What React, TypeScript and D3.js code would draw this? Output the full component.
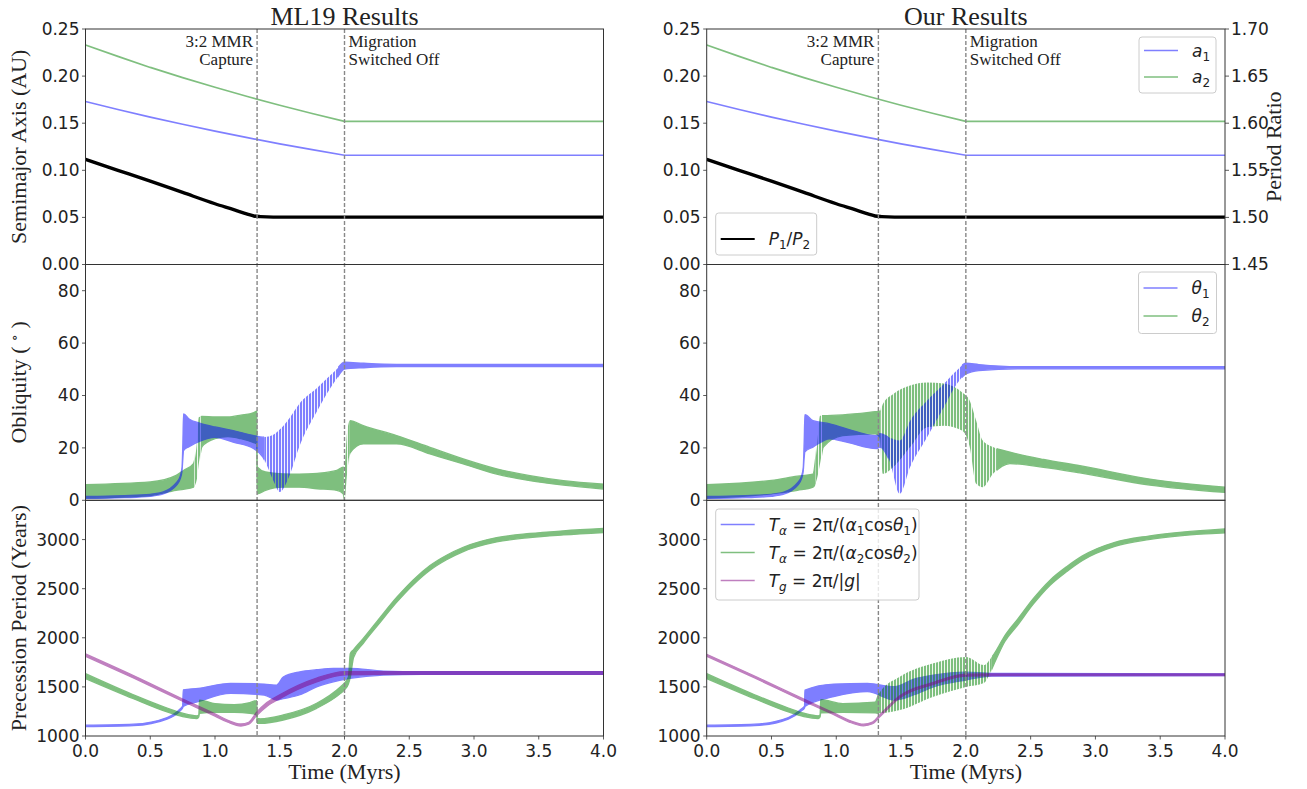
import React from "react";
import * as d3 from "d3";

type Pt = [number, number, number];

// ---------- ticks ----------
const TIME_TICKS = [0, 0.5, 1, 1.5, 2, 2.5, 3, 3.5, 4];
const SMA_TICKS = [0, 0.05, 0.1, 0.15, 0.2, 0.25];
const RATIO_TICKS = [1.45, 1.5, 1.55, 1.6, 1.65, 1.7];
const OBL_TICKS = [0, 20, 40, 60, 80];
const PREC_TICKS = [1000, 1500, 2000, 2500, 3000];
const EVENTS = [1.325, 2.0];

// ---------- semimajor axes & period ratio ----------
const SMA_T = [0, 0.25, 0.5, 0.75, 1.0, 1.25, 1.5, 1.75, 2.0, 4.0];
const SMA_1 = [0.173, 0.1645, 0.1565, 0.1489, 0.1416, 0.1347, 0.1281, 0.1219, 0.116, 0.116];
const SMA_2 = [0.233, 0.2209, 0.2092, 0.1984, 0.1881, 0.1783, 0.1691, 0.1603, 0.152, 0.152];
const RATIO_T = [0, 0.25, 0.5, 0.75, 1.0, 1.15, 1.25, 1.3, 1.35, 1.45, 4.0];
const RATIO = [1.5615, 1.55, 1.5385, 1.5265, 1.5145, 1.508, 1.5035, 1.5015, 1.5008, 1.5003, 1.5003];

// ---------- obliquity [t, low, high] ----------
const ML19_OBL_1: Pt[] = [
  [0, 0.7, 1.5], [0.3, 1.0, 1.8], [0.5, 1.5, 2.3], [0.6, 2.4, 3.2], [0.65, 3.6, 4.4],
  [0.7, 5.6, 6.6], [0.73, 8, 9], [0.745, 11, 12.5], [0.752, 16, 22], [0.757, 19, 33],
  [0.8, 20.5, 31], [0.88, 22.5, 29.5], [1.0, 24, 28], [1.14, 22.2, 26.6], [1.3, 19.7, 24.7],
  [1.37, 16.5, 24.1], [1.45, 7.6, 25], [1.5, 3.2, 27], [1.58, 10, 31.7], [1.65, 20.3, 36.8],
  [1.79, 34.2, 43], [1.93, 45.7, 49.5], [2.0, 50.1, 52.7], [2.15, 50.6, 52.3], [2.4, 51, 51.9],
  [4.0, 51, 51.9],
];
const ML19_OBL_1_SPIKY = [[1.38, 1.95]];
const ML19_OBL_2: Pt[] = [
  [0, 0.8, 6], [0.5, 1.8, 7], [0.7, 3.8, 9.5], [0.757, 4.2, 11.4], [0.834, 5, 14],
  [0.86, 8, 22], [0.875, 14, 31.7], [0.9, 20.5, 32], [1.0, 23.5, 31.8], [1.1, 24.3, 31.8],
  [1.2, 23.5, 32.5], [1.3, 22, 33.5], [1.322, 21.5, 34], [1.326, 2.5, 12.7], [1.39, 3.8, 10.8],
  [1.52, 5, 10.1], [1.65, 5, 10], [1.79, 4.4, 10.3], [1.94, 3.8, 11.4], [1.99, 2.5, 12.7],
  [2.0, 0, 12.5], [2.02, 10, 26], [2.042, 18, 30.4], [2.145, 21.5, 28.5], [2.402, 21.5, 24.7],
  [2.66, 17.7, 20.2], [2.917, 13.9, 15.8], [3.175, 10, 12], [3.432, 7.5, 9.4], [3.69, 5.8, 7.5],
  [4.0, 4.3, 6.2],
];
const ML19_OBL_2_SPIKY = [[0.84, 0.89], [1.995, 2.04]];

const OUR_OBL_1: Pt[] = [
  [0, 0.7, 1.5], [0.3, 1.0, 1.8], [0.5, 1.5, 2.3], [0.6, 2.4, 3.2], [0.65, 3.6, 4.4],
  [0.7, 5.6, 6.6], [0.73, 8, 9], [0.745, 11, 12.5], [0.752, 16, 22], [0.758, 18.5, 32.7],
  [0.82, 20.3, 30.4], [0.95, 23.5, 29.2], [1.08, 22.2, 27.3], [1.31, 19.7, 24.7],
  [1.337, 20.3, 25.4], [1.41, 15.2, 24], [1.49, 2.5, 22.8], [1.57, 12.7, 30.4],
  [1.7, 24, 38], [1.83, 35.5, 44.4], [1.93, 44.4, 49.5], [2.0, 48.2, 52.3],
  [2.1, 49.5, 51.8], [2.4, 50.2, 51.0], [4.0, 50.2, 51.0],
];
const OUR_OBL_1_SPIKY = [[1.4, 1.97]];
const OUR_OBL_2: Pt[] = [
  [0, 0.8, 6], [0.5, 2.5, 7.6], [0.7, 3.8, 9.2], [0.82, 5, 10], [0.85, 8, 20],
  [0.875, 14, 32.3], [0.9, 20.3, 32.3], [1.05, 24.7, 32.6], [1.3, 25.4, 33.8],
  [1.337, 24, 34], [1.36, 10.1, 36.8], [1.44, 12.7, 40.6], [1.57, 20.3, 43.8],
  [1.7, 27.9, 45], [1.83, 28.5, 44.6], [1.97, 26.6, 41.2], [2.03, 20.3, 38],
  [2.08, 6.3, 30.4], [2.13, 5, 22.8], [2.21, 10.1, 20.3], [2.34, 14, 18.4],
  [2.6, 12.6, 15.6], [2.88, 10.5, 13.2], [3.42, 5.8, 8.1], [4.0, 3, 5],
];
const OUR_OBL_2_SPIKY = [[0.84, 0.89], [1.34, 2.24]];

// ---------- precession periods [t, low, high] ----------
const ML19_PREC_1: Pt[] = [
  [0, 1095, 1110], [0.37, 1105, 1120], [0.63, 1172, 1188], [0.73, 1255, 1275],
  [0.75, 1285, 1305], [0.755, 1300, 1470], [0.87, 1349, 1485], [1.12, 1434, 1536],
  [1.38, 1417, 1529], [1.476, 1366, 1519], [1.527, 1380, 1600], [1.656, 1420, 1654],
  [1.785, 1500, 1675], [1.914, 1552, 1689], [2.042, 1586, 1689], [2.3, 1620, 1661],
  [2.6, 1628, 1655], [4.0, 1628, 1655],
];
const ML19_PREC_1_SPIKY: number[][] = [];
const ML19_PREC_2: Pt[] = [
  [0, 1585, 1635], [0.37, 1380, 1420], [0.63, 1245, 1285], [0.75, 1198, 1232],
  [0.86, 1178, 1205], [0.875, 1195, 1215], [0.88, 1231, 1366], [1.0, 1240, 1330],
  [1.15, 1240, 1320], [1.27, 1231, 1340], [1.322, 1215, 1360], [1.326, 1130, 1180],
  [1.35, 1129, 1175], [1.527, 1163, 1214], [1.785, 1282, 1333], [1.97, 1434, 1502],
  [2.0, 1470, 1540], [2.03, 1530, 1600], [2.045, 1600, 1841], [2.07, 1800, 1880],
  [2.145, 1944, 1994], [2.274, 2155, 2205], [2.402, 2360, 2410], [2.531, 2540, 2590],
  [2.66, 2688, 2736], [2.788, 2795, 2841], [2.917, 2878, 2922], [3.175, 2976, 3020],
  [3.432, 3020, 3062], [3.69, 3047, 3089], [4.0, 3072, 3113],
];
const ML19_PREC_2_SPIKY: number[][] = [];
const ML19_PREC_G: Pt[] = [
  [0, 1812, 1836], [0.37, 1591, 1615], [0.75, 1355, 1377], [1.0, 1203, 1225],
  [1.1, 1140, 1160], [1.2, 1102, 1122], [1.26, 1120, 1140], [1.32, 1205, 1240],
  [1.4, 1300, 1340], [1.5, 1380, 1420], [1.785, 1550, 1590], [2.0, 1622, 1655],
  [2.3, 1628, 1655], [4.0, 1628, 1655],
];

const OUR_PREC_1: Pt[] = [
  [0, 1095, 1110], [0.37, 1105, 1120], [0.63, 1172, 1188], [0.73, 1255, 1275],
  [0.755, 1285, 1305], [0.758, 1300, 1467], [0.98, 1400, 1529], [1.24, 1451, 1536],
  [1.45, 1366, 1502], [1.6, 1420, 1580], [1.75, 1500, 1620], [2.0, 1570, 1650],
  [2.2, 1610, 1638], [4.0, 1615, 1633],
];
const OUR_PREC_1_SPIKY: number[][] = [];
const OUR_PREC_2: Pt[] = [
  [0, 1585, 1635], [0.37, 1380, 1420], [0.63, 1245, 1285], [0.75, 1198, 1232],
  [0.86, 1178, 1205], [0.875, 1195, 1215], [0.88, 1235, 1370], [1.05, 1240, 1330],
  [1.3, 1235, 1345], [1.33, 1231, 1434], [1.49, 1264, 1603], [1.75, 1400, 1740],
  [2.0, 1500, 1805], [2.14, 1540, 1722], [2.19, 1651, 1786], [2.22, 1740, 1840],
  [2.3, 1960, 2020], [2.4, 2130, 2190], [2.52, 2342, 2398], [2.65, 2535, 2587],
  [2.78, 2676, 2726], [2.9, 2788, 2834], [3.15, 2930, 2972], [3.41, 3000, 3036],
  [3.67, 3041, 3076], [4.0, 3068, 3109],
];
const OUR_PREC_2_SPIKY = [[1.33, 2.2]];
const OUR_PREC_G: Pt[] = [
  [0, 1812, 1832], [0.37, 1591, 1611], [0.75, 1355, 1375], [1.0, 1205, 1222],
  [1.1, 1142, 1160], [1.21, 1104, 1120], [1.28, 1125, 1142], [1.34, 1200, 1222],
  [1.49, 1390, 1410], [1.75, 1526, 1546], [2.0, 1610, 1630], [2.3, 1614, 1632],
  [4.0, 1614, 1632],
];

// ---------- legend labels (math segments: n normal, i italic, s sub, si italic sub) ----------
type Seg = [string, string];
const LBL_A1: Seg[] = [["a", "i"], ["1", "s"]];
const LBL_A2: Seg[] = [["a", "i"], ["2", "s"]];
const LBL_RATIO: Seg[] = [["P", "i"], ["1", "s"], ["/", "n"], ["P", "i"], ["2", "s"]];
const LBL_TH1: Seg[] = [["θ", "i"], ["1", "s"]];
const LBL_TH2: Seg[] = [["θ", "i"], ["2", "s"]];
const LBL_T1: Seg[] = [["T", "i"], ["α", "si"], [" = 2π/(", "n"], ["α", "i"], ["1", "s"], ["cos", "n"], ["θ", "i"], ["1", "s"], [")", "n"]];
const LBL_T2: Seg[] = [["T", "i"], ["α", "si"], [" = 2π/(", "n"], ["α", "i"], ["2", "s"], ["cos", "n"], ["θ", "i"], ["2", "s"], [")", "n"]];
const LBL_TG: Seg[] = [["T", "i"], ["g", "si"], [" = 2π/|", "n"], ["g", "i"], ["|", "n"]];

// ---------- layout ----------
const TOP = 29;
const R1 = 264.5;
const R2 = 500.3;
const BOT = 736;
const BLUE = "#0000ff";
const GREEN = "#008000";
const PURPLE = "#800080";
const SERIF = "'Liberation Serif', 'DejaVu Serif', serif";
const SANS = "'DejaVu Sans', sans-serif";
const TXT = "#222";

const COLS = [
  {
    key: "ml", title: "ML19 Results", x0: 85.5, x1: 603.5, right: false,
    obl1: ML19_OBL_1, obl1s: ML19_OBL_1_SPIKY, obl2: ML19_OBL_2, obl2s: ML19_OBL_2_SPIKY,
    p1: ML19_PREC_1, p1s: ML19_PREC_1_SPIKY, p2: ML19_PREC_2, p2s: ML19_PREC_2_SPIKY, pg: ML19_PREC_G,
  },
  {
    key: "our", title: "Our Results", x0: 706.7, x1: 1225, right: true,
    obl1: OUR_OBL_1, obl1s: OUR_OBL_1_SPIKY, obl2: OUR_OBL_2, obl2s: OUR_OBL_2_SPIKY,
    p1: OUR_PREC_1, p1s: OUR_PREC_1_SPIKY, p2: OUR_PREC_2, p2s: OUR_PREC_2_SPIKY, pg: OUR_PREC_G,
  },
];

type Sc = d3.ScaleLinear<number, number>;

function Band(props: {
  id: string; data: Pt[]; spiky: number[][]; x: Sc; y: Sc; color: string; pattern: string;
}) {
  const { id, data, spiky, x, y, color, pattern } = props;
  const area = d3
    .area<Pt>()
    .x((d) => x(d[0]))
    .y0((d) => y(d[1]))
    .y1((d) => y(d[2]))
    .curve(d3.curveMonotoneX);
  const d = area(data) || "";
  const [r0, r1] = x.range();
  const sp = spiky.map(([a, b]) => [x(a), x(b)]);
  const solid: number[][] = [];
  let cur = r0 - 10;
  for (const [a, b] of sp) {
    solid.push([cur, a]);
    cur = b;
  }
  solid.push([cur, r1 + 10]);
  return (
    <g opacity={0.5}>
      <clipPath id={id + "-s"}>
        {solid.map(([a, b], i) => (
          <rect key={i} x={a} y={0} width={Math.max(0, b - a)} height={789} />
        ))}
      </clipPath>
      {sp.length > 0 && (
        <clipPath id={id + "-p"}>
          {sp.map(([a, b], i) => (
            <rect key={i} x={a} y={0} width={Math.max(0, b - a)} height={789} />
          ))}
        </clipPath>
      )}
      <path d={d} fill={color} stroke={color} strokeWidth={1.3} strokeLinejoin="round" clipPath={`url(#${id}-s)`} />
      {sp.length > 0 && <path d={d} fill={`url(#${pattern})`} clipPath={`url(#${id}-p)`} />}
    </g>
  );
}

function MathText({ segs }: { segs: Seg[] }) {
  let off = 0;
  return (
    <>
      {segs.map(([t, s], i) => {
        const sub = s[0] === "s";
        const target = sub ? 4 : 0;
        const dy = target - off;
        off = target;
        return (
          <tspan key={i} dy={dy !== 0 ? dy : undefined} fontSize={sub ? 12 : 17} fontStyle={s.includes("i") ? "italic" : "normal"}>
            {t}
          </tspan>
        );
      })}
    </>
  );
}

function Legend(props: { x: number; y: number; w: number; h: number; items: { color: string; label: Seg[]; alpha?: number }[]; first: number; step: number }) {
  const { x, y, w, h, items, first, step } = props;
  return (
    <g>
      <rect x={x} y={y} width={w} height={h} rx={3} fill="#fff" fillOpacity={0.8} stroke="#cccccc" strokeWidth={1} />
      {items.map((it, i) => {
        const yy = y + first + i * step;
        return (
          <g key={i}>
            <line x1={x + 5} x2={x + 39} y1={yy} y2={yy} stroke={it.color} strokeOpacity={it.alpha ?? 0.5} strokeWidth={it.alpha ? 2 : 1.6} />
            <text x={x + 53} y={yy + 6} fontFamily={SANS} fontSize={17} fill={TXT}>
              <MathText segs={it.label} />
            </text>
          </g>
        );
      })}
    </g>
  );
}

function Column({ c }: { c: (typeof COLS)[number] }) {
  const x = d3.scaleLinear().domain([0, 4]).range([c.x0, c.x1]);
  const ySma = d3.scaleLinear().domain([0, 0.25]).range([R1, TOP]);
  const yRat = d3.scaleLinear().domain([1.45, 1.7]).range([R1, TOP]);
  const yObl = d3.scaleLinear().domain([0, 90]).range([R2, R1]);
  const yPre = d3.scaleLinear().domain([1000, 3400]).range([BOT, R2]);
  const w = c.x1 - c.x0;
  const mid = (c.x0 + c.x1) / 2;

  const smaLine = (vals: number[]) =>
    d3.line<number>().x((_, i) => x(SMA_T[i])).y((v) => ySma(v)).curve(d3.curveLinear)(vals) || "";
  const ratioLine =
    d3.line<number>().x((_, i) => x(RATIO_T[i])).y((v) => yRat(v)).curve(d3.curveMonotoneX)(RATIO) || "";

  const k = c.key;
  const yTicks = (ticks: number[], sc: Sc, fmt: (v: number) => string) =>
    ticks.map((t) => (
      <g key={t}>
        <line x1={c.x0 - 3.5} x2={c.x0} y1={sc(t)} y2={sc(t)} stroke="#333" strokeWidth={0.8} />
        <text x={c.x0 - 6} y={sc(t)} dy="0.35em" textAnchor="end" fontFamily={SANS} fontSize={17} fill={TXT}>
          {fmt(t)}
        </text>
      </g>
    ));

  return (
    <g>
      <clipPath id={`${k}-c0`}><rect x={c.x0} y={TOP} width={w} height={R1 - TOP} /></clipPath>
      <clipPath id={`${k}-c1`}><rect x={c.x0} y={R1} width={w} height={R2 - R1} /></clipPath>
      <clipPath id={`${k}-c2`}><rect x={c.x0} y={R2} width={w} height={BOT - R2} /></clipPath>

      {/* top panel */}
      <g clipPath={`url(#${k}-c0)`}>
        <path d={smaLine(SMA_1)} fill="none" stroke={BLUE} strokeOpacity={0.5} strokeWidth={1.7} strokeLinejoin="round" />
        <path d={smaLine(SMA_2)} fill="none" stroke={GREEN} strokeOpacity={0.5} strokeWidth={1.7} strokeLinejoin="round" />
        <path d={ratioLine} fill="none" stroke="#000" strokeWidth={3.4} />
      </g>

      {/* obliquity panel */}
      <g clipPath={`url(#${k}-c1)`}>
        <Band id={`${k}-o2`} data={c.obl2} spiky={c.obl2s} x={x} y={yObl} color={GREEN} pattern="pat-green" />
        <Band id={`${k}-o1`} data={c.obl1} spiky={c.obl1s} x={x} y={yObl} color={BLUE} pattern="pat-blue" />
      </g>

      {/* precession panel */}
      <g clipPath={`url(#${k}-c2)`}>
        <Band id={`${k}-p1`} data={c.p1} spiky={c.p1s} x={x} y={yPre} color={BLUE} pattern="pat-blue" />
        <Band id={`${k}-p2`} data={c.p2} spiky={c.p2s} x={x} y={yPre} color={GREEN} pattern="pat-green" />
        <Band id={`${k}-pg`} data={c.pg} spiky={[]} x={x} y={yPre} color={PURPLE} pattern="pat-blue" />
      </g>

      {/* event lines */}
      {EVENTS.map((t) => (
        <line key={t} x1={x(t)} x2={x(t)} y1={TOP} y2={BOT} stroke="#888" strokeWidth={1.4} strokeDasharray="4,2" />
      ))}

      {/* frames */}
      <rect x={c.x0} y={TOP} width={w} height={R1 - TOP} fill="none" stroke="#333" strokeWidth={1} />
      <rect x={c.x0} y={R1} width={w} height={R2 - R1} fill="none" stroke="#333" strokeWidth={1} />
      <rect x={c.x0} y={R2} width={w} height={BOT - R2} fill="none" stroke="#333" strokeWidth={1} />

      {/* annotations */}
      <g fontFamily={SERIF} fontSize={17} fill={TXT}>
        <text x={x(EVENTS[0]) - 4} y={47} textAnchor="end">3:2 MMR</text>
        <text x={x(EVENTS[0]) - 4} y={65} textAnchor="end">Capture</text>
        <text x={x(EVENTS[1]) + 4} y={47}>Migration</text>
        <text x={x(EVENTS[1]) + 4} y={65}>Switched Off</text>
      </g>

      {/* y ticks */}
      {yTicks(SMA_TICKS, ySma, (v) => v.toFixed(2))}
      {yTicks(OBL_TICKS, yObl, (v) => String(v))}
      {yTicks(PREC_TICKS, yPre, (v) => String(v))}

      {/* x ticks */}
      {TIME_TICKS.map((t) => (
        <g key={t}>
          <line x1={x(t)} x2={x(t)} y1={BOT} y2={BOT + 3.5} stroke="#333" strokeWidth={0.8} />
          <text x={x(t)} y={BOT + 21} textAnchor="middle" fontFamily={SANS} fontSize={17} fill={TXT}>
            {t.toFixed(1)}
          </text>
        </g>
      ))}

      {/* right axis */}
      {c.right &&
        RATIO_TICKS.map((t) => (
          <g key={t}>
            <line x1={c.x1} x2={c.x1 + 4} y1={yRat(t)} y2={yRat(t)} stroke="#333" strokeWidth={0.8} />
            <text x={c.x1 + 6} y={yRat(t)} dy="0.35em" fontFamily={SANS} fontSize={17} fill={TXT}>
              {t.toFixed(2)}
            </text>
          </g>
        ))}
      {c.right && (
        <text transform={`translate(1281,${(TOP + R1) / 2}) rotate(-90)`} textAnchor="middle" fontFamily={SERIF} fontSize={22} fill={TXT}>
          Period Ratio
        </text>
      )}

      {/* titles */}
      <text x={mid} y={25} textAnchor="middle" fontFamily={SERIF} fontSize={26} fill={TXT}>{c.title}</text>
      <text x={mid} y={779} textAnchor="middle" fontFamily={SERIF} fontSize={22} fill={TXT}>Time (Myrs)</text>

      {/* legends */}
      {c.right && (
        <>
          <Legend x={1139} y={37} w={77} h={56} first={13.5} step={26.5}
            items={[
              { color: BLUE, label: LBL_A1 },
              { color: GREEN, label: LBL_A2 },
            ]} />
          <Legend x={715.7} y={213} w={101} h={42} first={26} step={0}
            items={[{ color: "#000", label: LBL_RATIO, alpha: 1 }]} />
          <Legend x={1138.5} y={272} w={78} h={61.5} first={16} step={28}
            items={[
              { color: BLUE, label: LBL_TH1 },
              { color: GREEN, label: LBL_TH2 },
            ]} />
          <Legend x={715.7} y={509} w={203.3} h={91} first={15.5} step={28}
            items={[
              { color: BLUE, label: LBL_T1 },
              { color: GREEN, label: LBL_T2 },
              { color: PURPLE, label: LBL_TG },
            ]} />
        </>
      )}
    </g>
  );
}

export default function App() {
  return (
    <svg
      width={1307}
      height={789}
      viewBox="0 0 1307 789"
      style={{ position: "absolute", left: 0, top: 0, background: "#fff" }}
    >
      <defs>
        <pattern id="pat-blue" patternUnits="userSpaceOnUse" width={3} height={10}>
          <rect x={0} y={0} width={2.1} height={10} fill={BLUE} />
        </pattern>
        <pattern id="pat-green" patternUnits="userSpaceOnUse" width={3} height={10}>
          <rect x={0} y={0} width={2.1} height={10} fill={GREEN} />
        </pattern>
      </defs>
      <rect x={0} y={0} width={1307} height={789} fill="#fff" />
      {COLS.map((c) => (
        <Column key={c.key} c={c} />
      ))}
      <g fontFamily={SERIF} fontSize={22} fill={TXT}>
        <text transform={`translate(26,${(TOP + R1) / 2}) rotate(-90)`} textAnchor="middle">Semimajor Axis (AU)</text>
        <text transform={`translate(26,${(R1 + R2) / 2}) rotate(-90)`} textAnchor="middle">
          Obliquity ( <tspan fontSize={14} dy={-7}>∘</tspan><tspan dy={7}> )</tspan>
        </text>
        <text transform={`translate(26,${(R2 + BOT) / 2}) rotate(-90)`} textAnchor="middle">Precession Period (Years)</text>
      </g>
    </svg>
  );
}
